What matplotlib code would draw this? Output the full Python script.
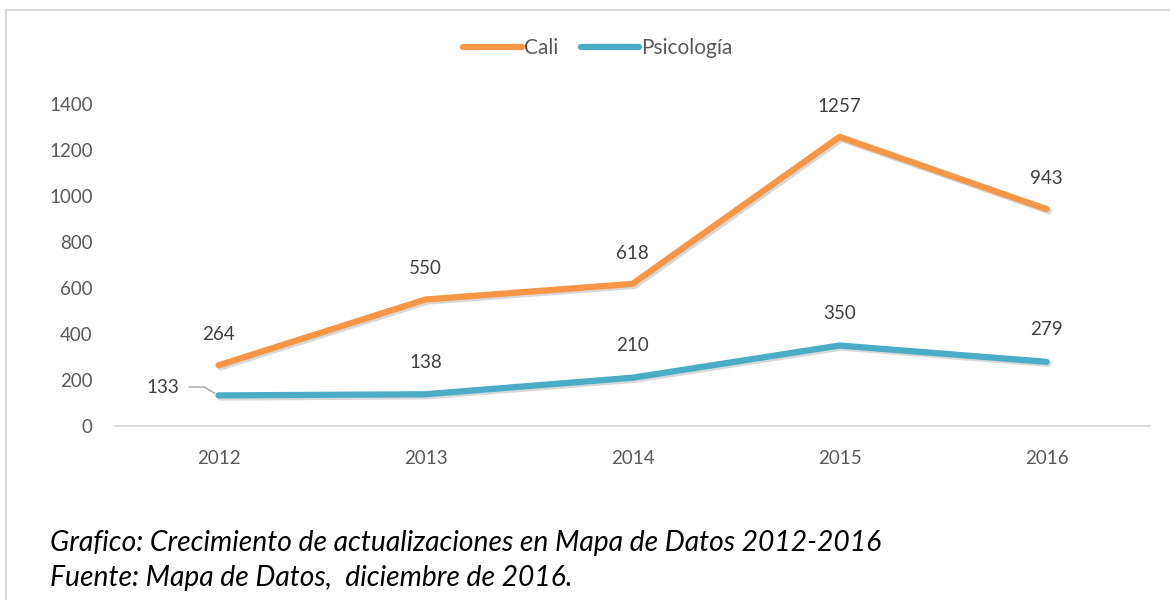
import matplotlib.pyplot as plt
import matplotlib.patheffects as pe
from matplotlib.lines import Line2D

# data
years = ["2012", "2013", "2014", "2015", "2016"]
cali = [264, 550, 618, 1257, 943]
psicologia = [133, 138, 210, 350, 279]

ORANGE = "#F79646"
BLUE = "#4BACC6"
TXT = "#595959"
FS = 13.5

plt.rcParams['font.family'] = ['Lato', 'DejaVu Sans']

fig = plt.figure(figsize=(11.7, 6.0), dpi=100)
ax = fig.add_axes([115 / 1170, 1 - 426 / 600, 1035 / 1170, 322 / 600])

xs = [i + 0.5 for i in range(len(years))]
shadow = [pe.SimpleLineShadow(offset=(1.5, -1.5), shadow_color="gray", alpha=0.3), pe.Normal()]
ax.plot(xs, cali, color=ORANGE, lw=4.5, solid_capstyle="round", path_effects=shadow, zorder=3)
ax.plot(xs, psicologia, color=BLUE, lw=4.5, solid_capstyle="round", path_effects=shadow, zorder=3)

for x, v in zip(xs, cali):
    ax.annotate(str(v), (x, v), xytext=(0, 22), textcoords="offset points",
                ha="center", va="center", fontsize=FS, color="#404040")
for i, (x, v) in enumerate(zip(xs, psicologia)):
    if i == 0:
        # label pushed left with a leader line, like the original
        ax.annotate(str(v), (x, v), xytext=(-40, 6), textcoords="offset points",
                    ha="center", va="center", fontsize=FS, color="#404040",
                    arrowprops=dict(arrowstyle="-", color="#A6A6A6", lw=1,
                                    shrinkA=5, shrinkB=3,
                                    connectionstyle="angle,angleA=0,angleB=150,rad=0"))
    else:
        ax.annotate(str(v), (x, v), xytext=(0, 23), textcoords="offset points",
                    ha="center", va="center", fontsize=FS, color="#404040")

ax.set_xlim(0, len(years))
ax.set_ylim(0, 1400)
ax.set_xticks(xs)
ax.set_xticklabels(years)
ax.set_yticks(range(0, 1401, 200))
ax.tick_params(axis="both", length=0, labelsize=FS, colors=TXT)
ax.tick_params(axis="y", pad=16)
ax.tick_params(axis="x", pad=17)
for s in ["top", "right", "left"]:
    ax.spines[s].set_visible(False)
ax.spines["bottom"].set_color("#D9D9D9")
ax.spines["bottom"].set_linewidth(1.3)

handles = [Line2D([], [], color=ORANGE, lw=4.5, solid_capstyle="round"),
           Line2D([], [], color=BLUE, lw=4.5, solid_capstyle="round")]
fig.legend(handles, ["Cali", "Psicología"], loc="center", bbox_to_anchor=(598 / 1170, 1 - 48 / 600),
           ncol=2, frameon=False, fontsize=15, handlelength=2.8, handletextpad=0.1,
           columnspacing=1.1, labelcolor=TXT)

# outer frame
fig.add_artist(Line2D([6 / 1170, 6 / 1170], [0, 1 - 10 / 600], transform=fig.transFigure, color="#D9D9D9", lw=1.5))
fig.add_artist(Line2D([6 / 1170, 1], [1 - 10 / 600, 1 - 10 / 600], transform=fig.transFigure, color="#D9D9D9", lw=1.5))

fig.text(50 / 1170, 1 - 543 / 600, "Grafico: Crecimiento de actualizaciones en Mapa de Datos 2012-2016",
         fontsize=20.3, style="italic", va="center", ha="left", color="black")
fig.text(50 / 1170, 1 - 578 / 600, "Fuente: Mapa de Datos,  diciembre de 2016.",
         fontsize=20.3, style="italic", va="center", ha="left", color="black")

fig.savefig("out.png", dpi=100)
